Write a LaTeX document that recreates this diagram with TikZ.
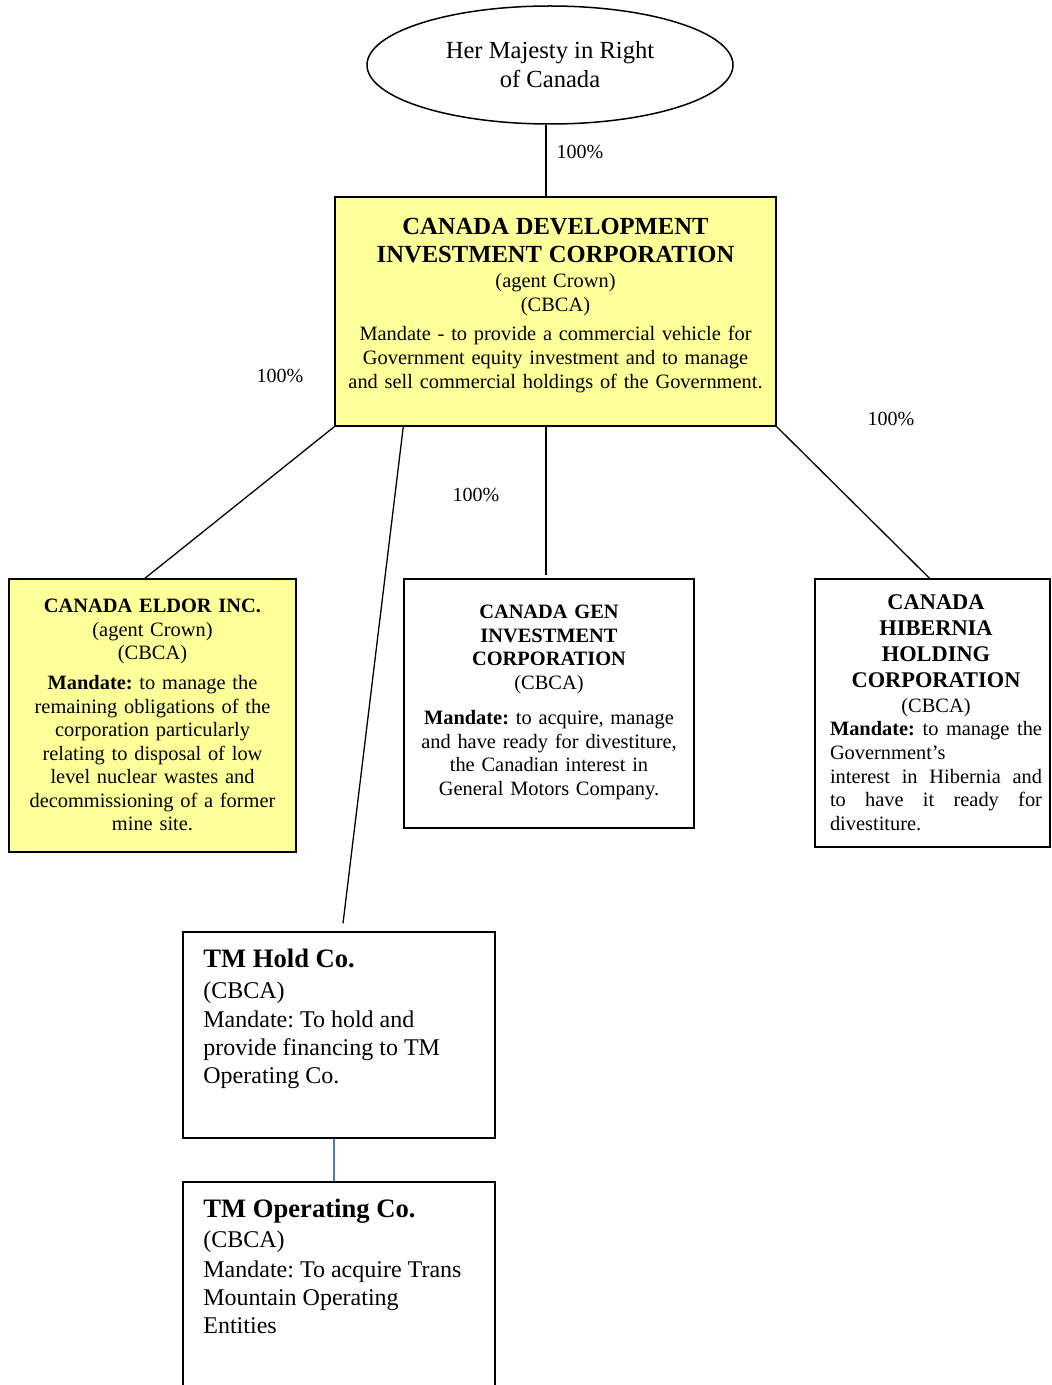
\documentclass[tikz,border=0pt]{standalone}
\usepackage{fontspec}
\setmainfont{Liberation Serif}
\usepackage{tikz}
\usetikzlibrary{
	shapes.geometric,
	calc
}
\frenchspacing

\definecolor{crownyellow}{HTML}{FFFF99}
\definecolor{linkblue}{HTML}{4A7EBB}
\newcommand{\fsz}[2]{\fontsize{#1}{#2}\selectfont}

\tikzset{
	orgbox/.style={draw,rectangle,line width=0.75pt,inner sep=0pt},
	crown/.style={orgbox,fill=crownyellow},
	blurb/.style={inner sep=0pt,align=center,text width=#1},
	pct/.style={inner sep=0pt,font=\fsz{10}{12}},
	link/.style={line width=0.65pt}
}

\begin{document}
\begin{tikzpicture}[x=0.5pt,y=-0.5pt]
		\useasboundingbox (0,0) rectangle (1051,1385);

		% owner
		\node[draw,ellipse,line width=0.75pt,minimum width=183pt,minimum height=59pt,
			align=center,font=\fsz{12.3}{14.5}] (queen) at (550,65) {Her Majesty in Right\\of Canada};

		% boxes
		\node[crown,minimum width=220.5pt,minimum height=114.5pt] (cdic)   at (555.5,311.5) {};
		\node[crown,minimum width=143.5pt,minimum height=136.5pt] (eldor)  at (152.5,715.5) {};
		\node[orgbox,minimum width=145pt,minimum height=124.5pt]  (gen)    at (549,703.5)   {};
		\node[orgbox,minimum width=117.5pt,minimum height=134pt]  (hib)    at (932.5,713)   {};
		\node[orgbox,minimum width=156pt,minimum height=103pt]    (tmhold) at (339,1035)    {};
		\node[orgbox,minimum width=156pt,minimum height=103pt]    (tmop)   at (339,1285)    {};

		% box texts
		\node[blurb=220pt,anchor=north,font=\fsz{10.2}{12}] (cdictxt) at (555.5,218) {
			{\bfseries\fsz{12.3}{14}CANADA DEVELOPMENT}\\[2pt]
			{\bfseries\fsz{12.3}{14}INVESTMENT CORPORATION}\\[0.5pt]
			(agent Crown)\\
			(CBCA)\\[2.5pt]
			Mandate - to provide a commercial vehicle for\\
			Government equity investment and to manage\\
			and sell commercial holdings of the Government.};

		\node[blurb=140pt,anchor=north,font=\fsz{10.2}{11.75}] (eldortxt) at (152.5,599) {
			\textbf{CANADA ELDOR INC.}\\
			(agent Crown)\\
			(CBCA)\\[3.25pt]
			\textbf{Mandate:} to manage the\\
			remaining obligations of the\\
			corporation particularly\\
			relating to disposal of low\\
			level nuclear wastes and\\
			decommissioning of a former\\
			mine site.};

		\node[blurb=140pt,anchor=north,font=\fsz{10.2}{11.75}] (gentxt) at (549,605) {
			\textbf{CANADA GEN}\\
			\textbf{INVESTMENT}\\
			\textbf{CORPORATION}\\
			(CBCA)\\[6pt]
			\textbf{Mandate:} to acquire, manage\\
			and have ready for divestiture,\\
			the Canadian interest in\\
			General Motors Company.};

		\node[blurb=106pt,anchor=north,font=\fsz{10.2}{11.8}] (hibtxt) at (936,594) {
			{\bfseries\fsz{11.2}{13}CANADA}\\[1.2pt]
			{\bfseries\fsz{11.2}{13}HIBERNIA}\\[1.2pt]
			{\bfseries\fsz{11.2}{13}HOLDING}\\[1.2pt]
			{\bfseries\fsz{11.2}{13}CORPORATION}\\[0.7pt]
			(CBCA)\\
			\makebox[106pt][s]{\textbf{Mandate:}\hfill to\hfill manage\hfill the}\\
			\makebox[106pt][l]{Government’s}\\
			\makebox[106pt][s]{interest\hfill in\hfill Hibernia\hfill and}\\
			\makebox[106pt][s]{to\hfill have\hfill it\hfill ready\hfill for}\\
			\makebox[106pt][l]{divestiture.}};

		\node[inner sep=0pt,anchor=north west,align=left,font=\fsz{12}{14}] (tmholdtxt) at (203,949) {
			{\bfseries\fsz{13.3}{15}TM Hold Co.}\\[1.5pt]
			(CBCA)\\[0.5pt]
			Mandate: To hold and\\
			provide financing to TM\\
			Operating Co.};

		\node[inner sep=0pt,anchor=north west,align=left,font=\fsz{12}{14}] (tmoptxt) at (203,1199) {
			{\bfseries\fsz{13.3}{15}TM Operating Co.}\\[1pt]
			(CBCA)\\[1pt]
			Mandate: To acquire Trans\\
			Mountain Operating\\
			Entities};

		% ownership lines
		\coordinate (spine) at (546,0);
		\draw[link] (spine |- queen.south) -- (spine |- cdic.north);
		\draw[link] (cdic.south west) -- ($(eldor.north)+(-7.5,0)$);
		\draw[link] (spine |- cdic.south) -- ($(spine |- gen.north)+(0,-3)$);
		\draw[link] (cdic.south east) -- ($(hib.north)+(-3,0)$);
		\draw[link] ($(cdic.south west)+(69,0)$) -- ($(tmhold.north)+(4,-8)$);
		\draw[link,linkblue] ($(tmhold.south)+(-5,0)$) -- ($(tmop.north)+(-5,0)$);

		% shares
		\node[pct] (pctcdic)  at (580,152) {100\%};
		\node[pct] (pcteldor) at (280,376) {100\%};
		\node[pct] (pctgen)   at (476,495) {100\%};
		\node[pct] (pcthib)   at (891,419) {100\%};
	\end{tikzpicture}
\end{document}
